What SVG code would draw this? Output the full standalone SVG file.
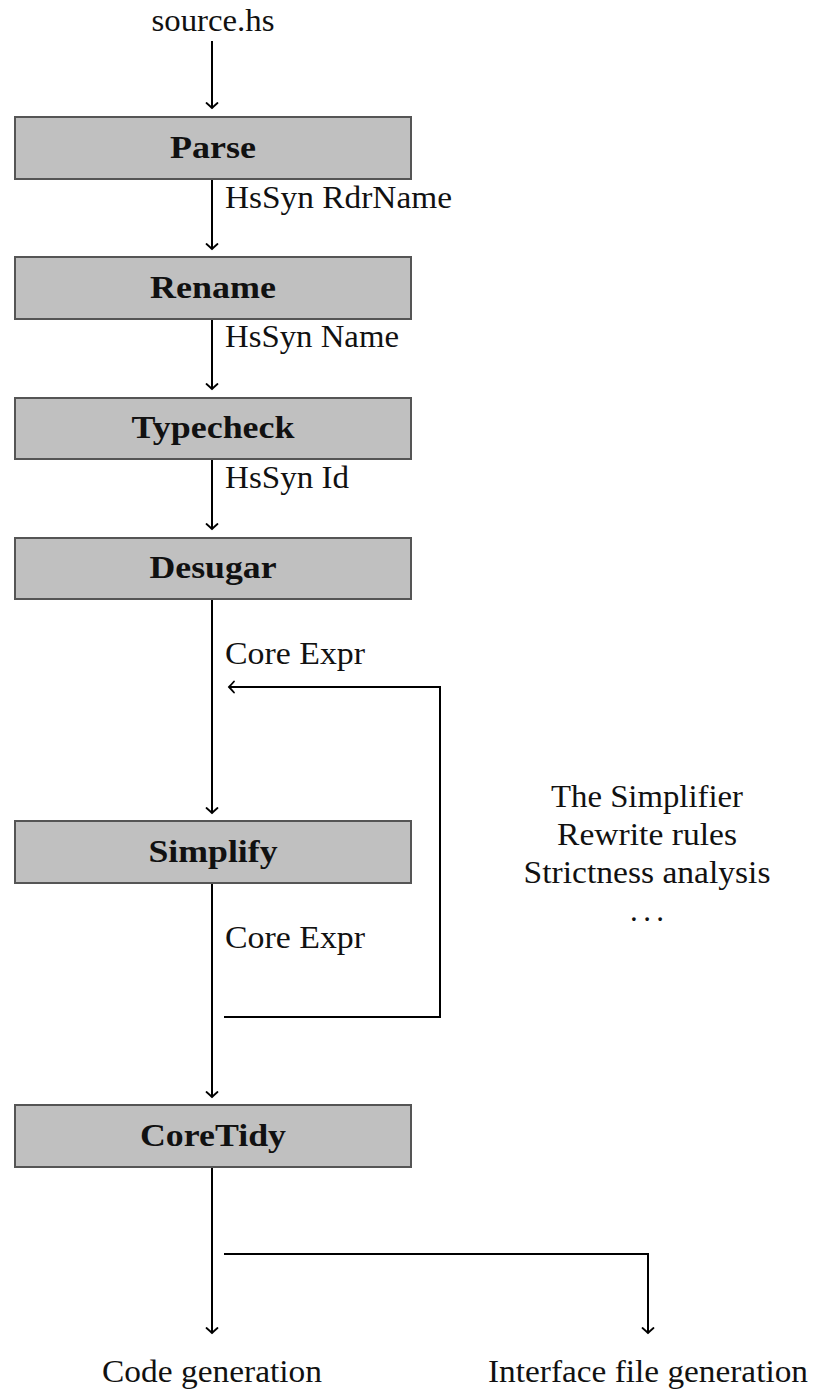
<svg xmlns="http://www.w3.org/2000/svg" width="813" height="1389" viewBox="0 0 813 1389">
<style>
.box{fill:#c0c0c0;stroke:#555555;stroke-width:2}
.t{font-family:"Liberation Serif","Times New Roman",serif;font-size:31px;fill:#111}
.b{font-family:"Liberation Serif","Times New Roman",serif;font-size:31px;font-weight:bold;fill:#111;text-anchor:middle}
.c{text-anchor:middle}
.ln{fill:none;stroke:#000;stroke-width:2}
</style>
<defs>
<marker id="arr" markerUnits="userSpaceOnUse" markerWidth="16" markerHeight="16" viewBox="-8 -8 16 16" refX="0" refY="0" orient="auto">
<path d="M-5,-5.5 Q-1.5,-1.5 0,0 Q-1.5,1.5 -5,5.5" fill="none" stroke="#000" stroke-width="1.8" stroke-linecap="round"/>
</marker>
</defs>
<rect width="813" height="1389" fill="#fff"/>
<g id="connectors">
<line class="ln" x1="212" y1="41" x2="212" y2="108" marker-end="url(#arr)"/>
<line class="ln" x1="212" y1="179" x2="212" y2="249" marker-end="url(#arr)"/>
<line class="ln" x1="212" y1="319" x2="212" y2="389" marker-end="url(#arr)"/>
<line class="ln" x1="212" y1="459" x2="212" y2="529" marker-end="url(#arr)"/>
<line class="ln" x1="212" y1="599" x2="212" y2="813" marker-end="url(#arr)"/>
<line class="ln" x1="212" y1="883" x2="212" y2="1097" marker-end="url(#arr)"/>
<line class="ln" x1="212" y1="1167" x2="212" y2="1333" marker-end="url(#arr)"/>
<path class="ln" d="M224,1017 H440 V687 H229" marker-end="url(#arr)"/>
<path class="ln" d="M224,1254 H648 V1333" marker-end="url(#arr)"/>
<text class="t" x="225" y="208" textLength="227" lengthAdjust="spacingAndGlyphs">HsSyn RdrName</text>
<text class="t" x="225" y="347" textLength="174" lengthAdjust="spacingAndGlyphs">HsSyn Name</text>
<text class="t" x="225" y="488" textLength="124" lengthAdjust="spacingAndGlyphs">HsSyn Id</text>
<text class="t" x="225" y="664" textLength="140" lengthAdjust="spacingAndGlyphs">Core Expr</text>
<text class="t" x="225" y="948" textLength="140" lengthAdjust="spacingAndGlyphs">Core Expr</text>
</g>
<g id="source"><text class="t c" x="213" y="31" textLength="123" lengthAdjust="spacingAndGlyphs">source.hs</text></g>
<g id="parse"><rect class="box" x="15" y="117" width="396" height="62"/><text class="b" x="213" y="158" textLength="86" lengthAdjust="spacingAndGlyphs">Parse</text></g>
<g id="rename"><rect class="box" x="15" y="257" width="396" height="62"/><text class="b" x="213" y="298" textLength="126" lengthAdjust="spacingAndGlyphs">Rename</text></g>
<g id="typecheck"><rect class="box" x="15" y="398" width="396" height="61"/><text class="b" x="213" y="438" textLength="163" lengthAdjust="spacingAndGlyphs">Typecheck</text></g>
<g id="desugar"><rect class="box" x="15" y="538" width="396" height="61"/><text class="b" x="213" y="578" textLength="127" lengthAdjust="spacingAndGlyphs">Desugar</text></g>
<g id="simplify"><rect class="box" x="15" y="821" width="396" height="62"/><text class="b" x="213" y="862" textLength="129" lengthAdjust="spacingAndGlyphs">Simplify</text></g>
<g id="coretidy"><rect class="box" x="15" y="1105" width="396" height="62"/><text class="b" x="213" y="1146" textLength="146" lengthAdjust="spacingAndGlyphs">CoreTidy</text></g>
<g id="notes">
<text class="t c" x="647" y="807" textLength="192" lengthAdjust="spacingAndGlyphs">The Simplifier</text>
<text class="t c" x="647" y="845" textLength="180" lengthAdjust="spacingAndGlyphs">Rewrite rules</text>
<text class="t c" x="647" y="883" textLength="247" lengthAdjust="spacingAndGlyphs">Strictness analysis</text>
<text class="t c" x="647" y="921" textLength="34" lengthAdjust="spacing">. . .</text>
</g>
<g id="codegen"><text class="t c" x="212" y="1382" textLength="220" lengthAdjust="spacingAndGlyphs">Code generation</text></g>
<g id="ifacegen"><text class="t c" x="648" y="1382" textLength="320" lengthAdjust="spacingAndGlyphs">Interface file generation</text></g>
</svg>
